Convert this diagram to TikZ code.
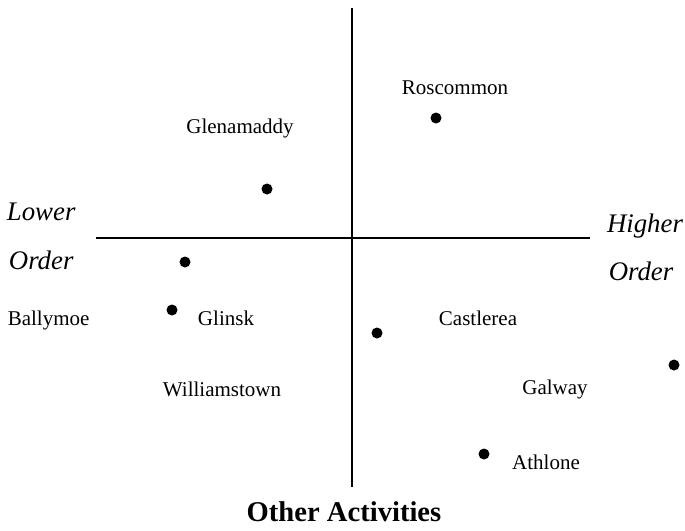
\documentclass[tikz,border=0pt]{standalone}
\usepackage{fontspec}
\setmainfont{Liberation Serif}
\usetikzlibrary{positioning}

\tikzset{
  town/.style={font=\fontsize{10.5}{12}\selectfont},
  side/.style={font=\fontsize{13.4}{15}\selectfont\itshape},
  dot/.style={circle,fill,inner sep=0pt,minimum size=5.5pt},
}

\begin{document}
\begin{tikzpicture}[x=0.5pt,y=-0.5pt,line width=0.9pt]
		\useasboundingbox (0,0) rectangle (685,530);
		\coordinate (top) at (352,8);
		\coordinate (bottom) at (352,487);
		\coordinate (left) at (96,238);
		\coordinate (right) at (590,238);
		
		\path
			(top) edge (bottom)
			(left) edge (right)
			;
		
		\node[dot] (roscommondot) at (436,118) {};
		\node[dot] (glenamaddydot) at (267,189) {};
		\node[dot] (dotc) at (185,262) {};
		\node[dot] (glinskdot) at (172,310) {};
		\node[dot] (castlereadot) at (377,333) {};
		\node[dot] (galwaydot) at (674,365) {};
		\node[dot] (athlonedot) at (484,454) {};
		
		\node[town] (roscommon) at (455,88) {Roscommon};
		\node[town] (glenamaddy) at (240,128) {Glenamaddy};
		\node[town,anchor=east] (ballymoe) at (97,320) {Ballymoe};
		\node[town] (glinsk) at (226,318) {Glinsk};
		\node[town] (castlerea) at (478,318) {Castlerea};
		\node[town] (williamstown) at (222,389) {Williamstown};
		\node[town] (galway) at (555,389) {Galway};
		\node[town] (athlone) at (546,462) {Athlone};
		
		\node[side,anchor=east] (lower) at (83,212) {Lower};
		\node[side,anchor=east] (lowerorder) at (81,260) {Order};
		\node[side] (higher) at (645,226) {Higher};
		\node[side] (higherorder) at (641,271) {Order};
		
		\node[font=\fontsize{14.3}{16}\selectfont\bfseries] (activities) at (344,512) {Other Activities};
	\end{tikzpicture}
\end{document}
